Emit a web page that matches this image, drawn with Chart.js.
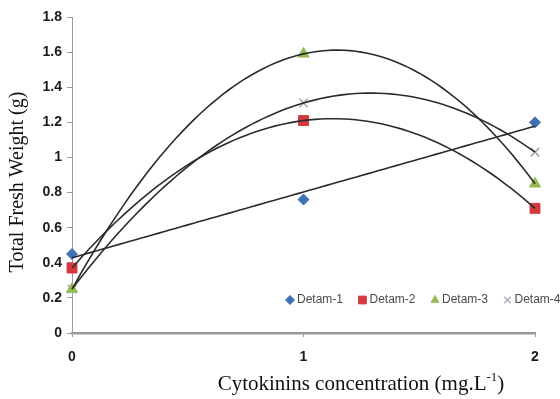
<!DOCTYPE html>
<html>
<head>
<meta charset="utf-8">
<script src="https://cdn.jsdelivr.net/npm/chart.js@4.4.1/dist/chart.umd.min.js"></script>
<style>
  html, body { margin: 0; padding: 0; background: #fff; }
  #wrap { width: 560px; height: 399px; position: relative; }
</style>
</head>
<body>
<div id="wrap"><canvas id="chart" width="560" height="399"></canvas></div>
<script>
// concentrations (mg/L) on the x axis
const concentrations = [0, 1, 2];
const seriesNames = ['Detam-1', 'Detam-2', 'Detam-3', 'Detam-4'];
const detam1 = [0.45, 0.76, 1.20];
const detam2 = [0.37, 1.21, 0.71];
const detam3 = [0.25, 1.59, 0.85];
const detam4 = [0.25, 1.31, 1.03];
// Excel style trendline per series
const trendTypes = ['linear', 'poly2', 'poly2', 'poly2'];
const yTicks = [0, 0.2, 0.4, 0.6, 0.8, 1, 1.2, 1.4, 1.6, 1.8];
const xTicks = [0, 1, 2];

const seriesValues = [detam1, detam2, detam3, detam4];
const markerStyles = ['rectRot', 'rect', 'triangle', 'crossRot'];
const markerColors = ['#3f72b5', '#d23a3f', '#95bb55', '#a8a8b8'];
const markerRadius = [5.5, 7, 6.5, 6];

const serif = '"Liberation Serif", "Times New Roman", serif';

function toPoints(values) {
    return values.map((v, i) => ({ x: concentrations[i], y: v }));
}

// least squares fit, returns coefficients [c0, c1, c2...]
function fitPoly(xs, ys, degree) {
    const n = degree + 1;
    const A = [];
    for (let r = 0; r < n; r++) {
        A.push(new Array(n + 1).fill(0));
    }
    for (let k = 0; k < xs.length; k++) {
        for (let r = 0; r < n; r++) {
            for (let c = 0; c < n; c++) {
                A[r][c] += Math.pow(xs[k], r + c);
            }
            A[r][n] += ys[k] * Math.pow(xs[k], r);
        }
    }
    // gaussian elimination
    for (let i = 0; i < n; i++) {
        let p = i;
        for (let r = i + 1; r < n; r++) if (Math.abs(A[r][i]) > Math.abs(A[p][i])) p = r;
        [A[i], A[p]] = [A[p], A[i]];
        for (let r = 0; r < n; r++) {
            if (r === i) continue;
            const f = A[r][i] / A[i][i];
            for (let c = i; c <= n; c++) A[r][c] -= f * A[i][c];
        }
    }
    return A.map((row, i) => row[n] / row[i]);
}

const trendlinePlugin = {
    id: 'trendlines',
    afterDatasetsDraw(chart) {
        const ctx = chart.ctx;
        const xs = chart.scales.x;
        const ys = chart.scales.y;
        ctx.save();
        ctx.strokeStyle = '#2b2b2b';
        ctx.lineWidth = 1.6;
        chart.data.datasets.forEach((ds, i) => {
            const degree = trendTypes[i] === 'linear' ? 1 : 2;
            const coef = fitPoly(ds.data.map(p => p.x), ds.data.map(p => p.y), degree);
            const x0 = concentrations[0];
            const x1 = concentrations[concentrations.length - 1];
            ctx.beginPath();
            const steps = 80;
            for (let s = 0; s <= steps; s++) {
                const xv = x0 + (x1 - x0) * s / steps;
                let yv = 0;
                coef.forEach((c, k) => { yv += c * Math.pow(xv, k); });
                const px = xs.getPixelForValue(xv);
                const py = ys.getPixelForValue(yv);
                if (s === 0) ctx.moveTo(px, py); else ctx.lineTo(px, py);
            }
            ctx.stroke();
        });
        ctx.restore();
    }
};

// legend sits inside the plot area, near the bottom right
const innerLegendPlugin = {
    id: 'innerLegend',
    afterDraw(chart) {
        const ctx = chart.ctx;
        const area = chart.chartArea;
        ctx.save();
        ctx.font = '12px "Liberation Sans", Arial, sans-serif';
        ctx.textBaseline = 'middle';
        let x = area.left + 218;
        const y = area.bottom - 33;
        chart.data.datasets.forEach((ds, i) => {
            ctx.fillStyle = ds.backgroundColor;
            ctx.strokeStyle = ds.borderColor;
            ctx.lineWidth = ds.pointStyle === 'crossRot' ? 1.3 : 1;
            Chart.helpers.drawPoint(ctx, {
                pointStyle: ds.pointStyle,
                radius: ds.pointStyle === 'rect' ? 5.5 : 4.5,
                rotation: 0,
                borderWidth: ctx.lineWidth
            }, x, y);
            ctx.fillStyle = '#4a4a4a';
            ctx.fillText(ds.label, x + 7, y);
            x += 72.5;
        });
        ctx.restore();
    }
};

// axis titles: the x one needs a superscript, so both are drawn here
const axisTitlePlugin = {
    id: 'axisTitles',
    afterDraw(chart) {
        const ctx = chart.ctx;
        ctx.save();
        ctx.fillStyle = '#111';
        ctx.textBaseline = 'alphabetic';
        const main = 'Cytokinins concentration (mg.L';
        const sup = '-1';
        const tail = ')';
        ctx.font = '21px ' + serif;
        const wMain = ctx.measureText(main).width;
        const wTail = ctx.measureText(tail).width;
        ctx.font = '13px ' + serif;
        const wSup = ctx.measureText(sup).width;
        const total = wMain + wSup + wTail;
        let x = 361 - total / 2;
        const y = 390;
        ctx.font = '21px ' + serif;
        ctx.fillText(main, x, y);
        x += wMain;
        ctx.font = '13px ' + serif;
        ctx.fillText(sup, x, y - 9);
        x += wSup;
        ctx.font = '21px ' + serif;
        ctx.fillText(tail, x, y);

        ctx.translate(18, 182);
        ctx.rotate(-Math.PI / 2);
        ctx.font = '20px ' + serif;
        ctx.textAlign = 'center';
        ctx.textBaseline = 'middle';
        ctx.fillText('Total Fresh Weight (g)', 0, 0);
        ctx.restore();
    }
};

const tickFont = { family: '"Liberation Sans", Arial, sans-serif', size: 14, weight: 'bold' };

const chart = new Chart(document.getElementById('chart').getContext('2d'), {
    type: 'scatter',
    data: {
        datasets: seriesNames.map((name, i) => ({
            label: name,
            data: toPoints(seriesValues[i]),
            pointStyle: markerStyles[i],
            pointRadius: markerRadius[i],
            pointHoverRadius: markerRadius[i],
            backgroundColor: markerColors[i],
            borderColor: markerColors[i],
            pointBorderWidth: markerStyles[i] === 'crossRot' ? 1.6 : 1,
            clip: false
        }))
    },
    options: {
        responsive: false,
        animation: false,
        layout: { padding: { left: 0, right: 25, top: 17, bottom: 0 } },
        plugins: {
            legend: { display: false },
            tooltip: { enabled: false }
        },
        scales: {
            x: {
                type: 'linear',
                min: 0,
                max: 2,
                afterBuildTicks: axis => { axis.ticks = xTicks.map(v => ({ value: v })); },
                afterFit: axis => { axis.height = 66; },
                ticks: {
                    color: '#1a1a1a',
                    font: tickFont,
                    padding: 12,
                    callback: v => String(v)
                },
                grid: { drawOnChartArea: false, drawTicks: true, tickLength: 4, color: '#9a9a9a', lineWidth: 1 },
                border: { color: '#9a9a9a', width: 2.5 }
            },
            y: {
                min: 0,
                max: 1.8,
                afterBuildTicks: axis => { axis.ticks = yTicks.map(v => ({ value: v })); },
                afterFit: axis => { axis.width = 72; },
                ticks: {
                    color: '#1a1a1a',
                    font: tickFont,
                    padding: 5,
                    callback: v => String(Math.round(v * 10) / 10)
                },
                grid: { drawOnChartArea: false, drawTicks: true, tickLength: 5, color: '#9a9a9a', lineWidth: 1 },
                border: { color: '#9a9a9a', width: 1 }
            }
        }
    },
    plugins: [trendlinePlugin, innerLegendPlugin, axisTitlePlugin]
});
</script>
</body>
</html>
